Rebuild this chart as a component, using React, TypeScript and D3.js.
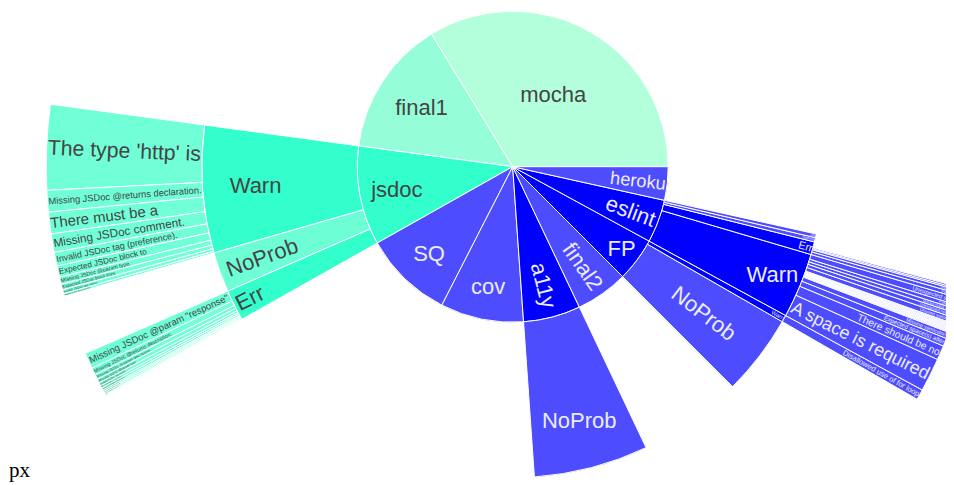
import { useMemo } from "react";
import * as d3 from "d3";

// ring 1 (counter-clockwise from 3 o'clock); null = sum of children
const suites = ["mocha", "final1", "jsdoc", "SQ", "cov", "a11y", "final2", "FP", "eslint", "heroku"];
const suiteValues = [1215, 508, null, 335, 311, null, 196, null, null, 125];

// ring 2 (value = own count, children are added on top)
const statusParents = ["jsdoc", "jsdoc", "jsdoc", "a11y", "FP", "FP", "eslint", "eslint", "eslint", "eslint"];
const statusLabels = ["Warn", "NoProb", "Err", "NoProb", "NoProb", "Warn", "Warn", "Err", "NoProb", "Info"];
const statusValues = [null, 75, null, 214, 151, null, null, 11, 8, 7];

// ring 3
const jsdocWarnMessages = [
  "The type 'http' is",
  "Missing JSDoc @returns declaration.",
  "There must be a",
  "Missing JSDoc comment.",
  "Invalid JSDoc tag (preference).",
  "Expected JSDoc block to",
  "Missing JSDoc @param type.",
  "Expected JSDoc block lines",
  "Invalid JSDoc tag name.",
  "Missing JSDoc @returns type.",
];
const jsdocWarnCounts = [106, 27, 27, 23, 17, 14, 9, 7, 5, 3];

const jsdocErrMessages = [
  'Missing JSDoc @param "response"',
  "Missing JSDoc @returns description.",
  "Missing JSDoc @param description.",
  "Missing JSDoc @param type.",
  "Invalid JSDoc tag name.",
  "Missing JSDoc comment.",
  "Expected JSDoc block lines",
  "Missing JSDoc @returns type.",
  "Invalid JSDoc @param name.",
  "Duplicate @param names.",
  "Missing JSDoc @throws.",
  "Invalid type.",
];
const jsdocErrCounts = [20, 9, 6, 5, 4, 3, 3, 2, 2, 2, 1, 1];

const fpWarnMessages = ["Disallowed use of for loop"];
const fpWarnCounts = [13];

const eslintWarnMessages = [
  "A space is required",
  "There should be no",
  "Expected space(s) after",
  "Missing semicolon.",
  "Unexpected var.", "Extra semicolon.", "Unexpected tab.", "Missing radix.",
  "Unexpected space.", "Strings must use", "Trailing spaces.", "Expected '==='.",
  "Unexpected console.", "Expected indent.", "Multiple spaces.", "No return.",
  "Unused variable.", "Unexpected newline.", "Missing trailing comma.", "Prefer const.",
  "Unexpected string.",
];
const eslintWarnCounts = [42, 18, 10, 8, 1, 1, 1, 1, 1, 1, 1, 1, 1, 1, 1, 1, 7, 6, 5, 5, 9];

const eslintErrMessages = ["Parsing error", "Unexpected token", "is not defined.", "Unreachable code."];
const eslintErrCounts = [5, 4, 2, 2];

const suiteColors = ["#b3ffdc", "#96fdd9", "#33ffcc", "#4d4dff", "#4d4dff", "#0000ff", "#4d4dff", "#0000ff", "#0000ff", "#4d4dff"];
const statusColors = ["#33ffcc", "#6dfed5", "#33ffcc", "#4d4dff", "#4d4dff", "#0000ff", "#0000ff", "#0000ff", "#4d4dff", "#4d4dff"];
const greenLeaf = "#70ffd7";
const blueLeaf = "#4d4dff";

const W = 946;
const H = 477;
const CX = 504.7;
const CY = 158.7;
const RING = 155.5;
const FONT = 22;
const FAMILY = '"Liberation Sans", Arial, sans-serif';
const TEXTPAD = 3;

type Row = { id: string; parent: string; label: string; value: number; color: string };

function buildRows(): Row[] {
  const rows: Row[] = [{ id: "root", parent: "", label: "", value: 0, color: "#fff" }];
  suites.forEach((s, i) =>
    rows.push({ id: s, parent: "root", label: s, value: suiteValues[i] ?? 0, color: suiteColors[i] })
  );
  statusLabels.forEach((s, i) => {
    const p = statusParents[i];
    rows.push({ id: `${p}/${s}`, parent: p, label: s, value: statusValues[i] ?? 0, color: statusColors[i] });
  });
  const addLeaves = (parent: string, msgs: string[], counts: number[], color: string) =>
    msgs.forEach((m, i) =>
      rows.push({ id: `${parent}/${i}`, parent, label: m, value: counts[i], color })
    );
  addLeaves("jsdoc/Warn", jsdocWarnMessages, jsdocWarnCounts, greenLeaf);
  addLeaves("jsdoc/Err", jsdocErrMessages, jsdocErrCounts, greenLeaf);
  addLeaves("FP/Warn", fpWarnMessages, fpWarnCounts, blueLeaf);
  addLeaves("eslint/Warn", eslintWarnMessages, eslintWarnCounts, blueLeaf);
  addLeaves("eslint/Err", eslintErrMessages, eslintErrCounts, blueLeaf);
  return rows;
}

// plotly-style inside text fitting
function calcMaxHalfSize(a: number, halfAngle: number, r: number, ring: number) {
  const q = a + 1 / (2 * Math.tan(halfAngle));
  return r * Math.min(1 / (Math.sqrt(q * q + 0.5) + q), ring / (Math.sqrt(a * a + ring / 2) + a));
}
const calcRCenter = (a: number, b: number) => Math.cos(b) - a * b;
const calcRotate = (t: number) => (((180 / Math.PI) * t + 720) % 180) - 90;

function fitText(w: number, h: number, rpx0: number, rpx1: number, span: number, pieMid: number) {
  const halfAngle = 0.5 * Math.min(span || Math.PI, Math.PI);
  const ring = 1 - rpx0 / rpx1;
  const rIns = Math.min(1 / (1 + 1 / Math.sin(halfAngle)), ring / 2);
  const diam = Math.sqrt(w * w + h * h);
  const horiz = { scale: (rIns * rpx1 * 2) / diam, rCenter: 1 - rIns, rotate: 0 };
  if (horiz.scale >= 1) return horiz;
  const r = Math.max(0, rpx1 - 2 * TEXTPAD);
  const aR = w / h;
  const sR = calcMaxHalfSize(aR, halfAngle, r, ring);
  const rad = { scale: (sR * 2) / h, rCenter: calcRCenter(aR, sR / r), rotate: calcRotate(pieMid) };
  const aT = h / w;
  const sT = calcMaxHalfSize(aT, halfAngle, r, ring);
  const tan = { scale: (sT * 2) / w, rCenter: calcRCenter(aT, sT / r), rotate: calcRotate(pieMid + Math.PI / 2) };
  return [horiz, rad, tan].reduce((best, t) => (t.scale > best.scale ? t : best));
}

export default function App() {
  const cells = useMemo(() => {
    const root = d3
      .stratify<Row>()
      .id((d) => d.id)
      .parentId((d) => d.parent || null)(buildRows())
      .sum((d) => d.value);
    d3.partition<Row>().size([2 * Math.PI, 1])(root);

    const ctx = document.createElement("canvas").getContext("2d")!;
    ctx.font = `${FONT}px ${FAMILY}`;
    const arc = d3.arc();

    return root
      .descendants()
      .filter((n) => n.depth > 0)
      .map((n: any) => {
        const x0 = n.x0 as number;
        const x1 = n.x1 as number;
        const rpx0 = (n.depth - 1) * RING;
        const rpx1 = n.depth * RING;
        const path = arc({
          innerRadius: rpx0,
          outerRadius: rpx1,
          startAngle: Math.PI / 2 - x1,
          endAngle: Math.PI / 2 - x0,
        } as any) as string;
        const label = n.data.label as string;
        const w = ctx.measureText(label).width;
        const h = FONT * 1.117;
        const screenMid = -(x0 + x1) / 2;
        const t = fitText(w, h, rpx0, rpx1, x1 - x0, screenMid + Math.PI / 2);
        const d = rpx1 * t.rCenter;
        const dark = d3.lab(n.data.color).l < 55;
        return {
          key: n.id as string,
          path,
          color: n.data.color as string,
          label,
          tx: d * Math.cos(screenMid),
          ty: d * Math.sin(screenMid),
          rotate: t.rotate,
          size: FONT * Math.min(1, t.scale),
          textColor: dark ? "#ececff" : "#444",
        };
      });
  }, []);

  return (
    <div style={{ position: "relative" }}>
      <div style={{ position: "absolute", left: 1, top: 450, fontSize: 21 }}>px</div>
      <svg width={W} height={H} style={{ display: "block", position: "relative" }}>
        <g transform={`translate(${CX},${CY})`}>
          {cells.map((c) => (
            <g key={c.key}>
              <path d={c.path} fill={c.color} stroke="#fff" strokeWidth={1} />
              <text
                transform={`translate(${c.tx},${c.ty}) rotate(${c.rotate})`}
                textAnchor="middle"
                dy="0.3465em"
                fontFamily={FAMILY}
                fontSize={c.size}
                fill={c.textColor}
              >
                {c.label}
              </text>
            </g>
          ))}
        </g>
      </svg>
    </div>
  );
}
